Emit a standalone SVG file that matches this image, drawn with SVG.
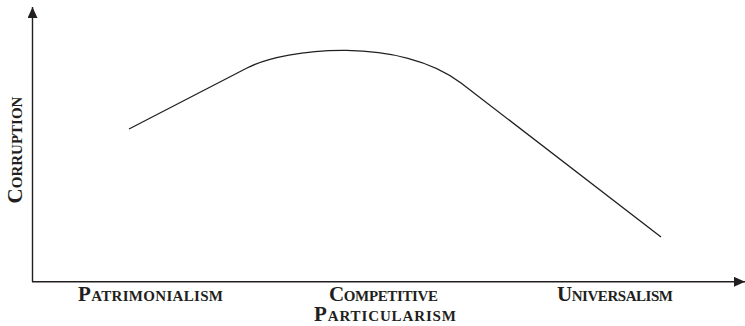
<svg xmlns="http://www.w3.org/2000/svg" width="745" height="326" viewBox="0 0 745 326">
<style>
.lbl{font-family:"Liberation Serif","Times New Roman",serif;font-weight:bold;font-size:21px;fill:#231f20}
.sc{font-size:15px}
.ax{stroke:#231f20;stroke-width:1.4;fill:none}
.curve{stroke:#231f20;stroke-width:1.3;fill:none}
</style>
<defs>
<marker id="ah" markerWidth="11" markerHeight="10" refX="11" refY="5" orient="auto" markerUnits="userSpaceOnUse">
<path d="M0,0 L11,5 L0,10 Z" fill="#231f20"/>
</marker>
</defs>
<g id="connectors">
<path id="y-axis" class="ax" d="M32.5,282 L32.5,7" marker-end="url(#ah)"/>
<path id="x-axis" class="ax" d="M32,281.8 L745,281.8" marker-end="url(#ah)"/>
<path id="curve" class="curve" d="M129,129 L247,68 C287,47.3 401,36.8 461,83 L661,237"/>
</g>
<g id="y-label">
<text class="lbl" transform="translate(21.5,150) rotate(-90)" text-anchor="middle">C<tspan class="sc">ORRUPTION</tspan></text>
</g>
<g id="patrimonialism">
<text class="lbl" x="78" y="301" textLength="145" lengthAdjust="spacing">P<tspan class="sc">ATRIMONIALISM</tspan></text>
</g>
<g id="competitive-particularism">
<text class="lbl" x="329" y="301" textLength="109" lengthAdjust="spacing">C<tspan class="sc">OMPETITIVE</tspan></text>
<text class="lbl" x="314" y="321" textLength="142" lengthAdjust="spacing">P<tspan class="sc">ARTICULARISM</tspan></text>
</g>
<g id="universalism">
<text class="lbl" x="557" y="301" textLength="116" lengthAdjust="spacing">U<tspan class="sc">NIVERSALISM</tspan></text>
</g>
</svg>
